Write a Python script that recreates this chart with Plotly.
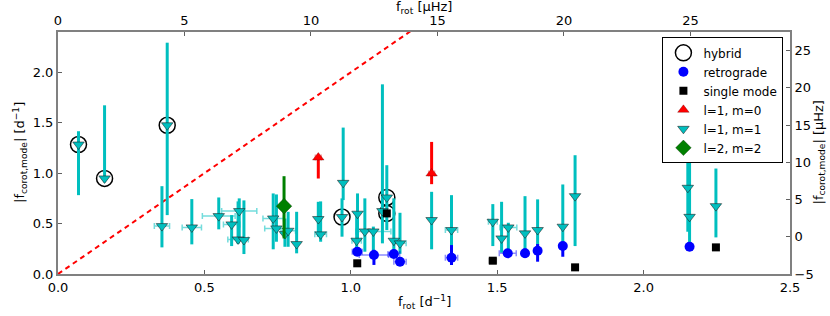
import plotly.graph_objects as go

# ---------------- data ----------------
# l=1, m=1 (cyan down-triangles)
m11_x    = [0.070, 0.159, 0.373, 0.355, 0.457, 0.549, 0.619, 0.593, 0.615, 0.635,
            0.735, 0.746, 0.775, 0.786, 0.815, 0.889, 0.897, 0.974, 0.970, 1.023,
            1.020, 1.048, 1.077, 1.108, 1.123, 1.147, 1.168, 1.276, 1.344, 1.485,
            1.515, 1.538, 1.595, 1.638, 1.724, 1.766, 2.151, 2.157, 2.247]
m11_y    = [1.284, 0.948, 1.475, 0.475, 0.462, 0.574, 0.624, 0.492, 0.343, 0.337,
            0.551, 0.452, 0.396, 0.429, 0.297, 0.545, 0.393, 0.904, 0.565, 0.598,
            0.330, 0.422, 0.422, 0.624, 0.759, 0.330, 0.304, 0.535, 0.436, 0.518,
            0.353, 0.462, 0.403, 0.436, 0.469, 0.772, 0.855, 0.567, 0.673]
m11_ylo  = [0.782, 0.910, 0.584, 0.264, 0.294, 0.443, 0.350, 0.277, 0.300, 0.198,
            0.245, 0.320, 0.270, 0.270, 0.205, 0.370, 0.320, 0.733, 0.370, 0.337,
            0.250, 0.221, 0.200, 0.304, 0.436, 0.200, 0.200, 0.245, 0.250, 0.277,
            0.211, 0.210, 0.250, 0.280, 0.280, 0.277, 0.419, 0.304, 0.363]
m11_yhi  = [1.416, 1.673, 2.294, 0.871, 0.743, 0.759, 0.750, 0.584, 0.720, 0.730,
            0.799, 0.789, 0.550, 0.617, 0.617, 0.716, 0.720, 1.452, 0.750, 0.799,
            0.600, 0.750, 0.470, 1.881, 1.079, 0.750, 0.607, 0.815, 0.782, 0.693,
            0.716, 0.508, 0.772, 0.740, 0.888, 1.178, 1.129, 1.178, 1.046]
m11_xerr = [0.0, 0.0, 0.0, 0.026, 0.033, 0.056, 0.060, 0.028, 0.035, 0.0,
            0.035, 0.040, 0.0, 0.025, 0.0, 0.0, 0.020, 0.0, 0.0, 0.0,
            0.016, 0.0, 0.060, 0.0, 0.0, 0.0, 0.021, 0.0, 0.021, 0.015,
            0.0, 0.029, 0.0, 0.0, 0.0, 0.0, 0.0, 0.0, 0.0]

# retrograde (blue circles)
retro_x    = [1.022, 1.079, 1.147, 1.168, 1.344, 1.536, 1.595, 1.638, 1.724, 2.157]
retro_y    = [0.221, 0.188, 0.198, 0.122, 0.162, 0.205, 0.205, 0.231, 0.277, 0.271]
retro_ylo  = [0.200, 0.090, 0.180, 0.105, 0.089, 0.170, 0.160, 0.122, 0.171, 0.255]
retro_yhi  = [0.240, 0.240, 0.215, 0.140, 0.287, 0.235, 0.254, 0.297, 0.300, 0.285]
retro_xerr = [0.017, 0.050, 0.020, 0.021, 0.021, 0.029, 0.0, 0.0, 0.0, 0.0]

# single mode (black squares)
single_x = [1.022, 1.123, 1.485, 1.766, 2.247]
single_y = [0.106, 0.601, 0.132, 0.066, 0.264]
single_xerr = [0.0, 0.0, 0.012, 0.0, 0.0]

# l=1, m=0 (red up-triangles)
m10_x   = [0.889, 1.276]
m10_y   = [1.155, 0.997]
m10_ylo = [0.947, 0.891]
m10_yhi = [1.170, 1.310]
m10_xerr = [0.010, 0.010]

# l=2, m=2 (green diamond)
m22_x   = [0.772]
m22_y   = [0.673]
m22_ylo = [0.353]
m22_yhi = [0.970]

# hybrid (open circles)
hyb_x = [0.070, 0.159, 0.373, 0.970, 1.123, 1.123]
hyb_y = [1.284, 0.948, 1.475, 0.565, 0.759, 0.601]

# axes
x_range = [0.0, 2.5]
y_range = [0.0, 2.4]
x_ticks = [0.0, 0.5, 1.0, 1.5, 2.0, 2.5]
y_ticks = [0.0, 0.5, 1.0, 1.5, 2.0]
uhz_per_cd = 11.574
top_ticks = [0, 5, 10, 15, 20, 25]
right_range = [-5, 27.5]
right_ticks = [-5, 0, 5, 10, 15, 20, 25]
diag_slope = 2.0
diag_x = [0.0, 2.5]

# ---------------- figure ----------------
CYAN = "#00bfbf"
CYAN_L = "rgba(0,191,191,0.55)"
BLUE = "#0000ff"
BLUE_L = "rgba(0,0,255,0.45)"
FONT = "DejaVu Sans"

def plus(v, hi):
    return [h - a for a, h in zip(v, hi)]

def minus(v, lo):
    return [a - l for a, l in zip(v, lo)]

fig = go.Figure()

# diagonal
fig.add_trace(go.Scatter(
    x=diag_x, y=[diag_slope * v for v in diag_x], mode="lines",
    line=dict(color="red", width=2, dash="5px,4px"),
    showlegend=False, hoverinfo="skip"))

fig.add_trace(go.Scatter(
    x=hyb_x, y=hyb_y, mode="markers", name="hybrid",
    marker=dict(symbol="circle-open", size=16, color="black", line=dict(width=1.5))))

fig.add_trace(go.Scatter(
    x=m11_x, y=m11_y, mode="markers", name="l=1, m=1",
    marker=dict(symbol="triangle-down", size=10, color=CYAN,
                line=dict(color="rgba(30,30,30,0.8)", width=0.7)),
    error_y=dict(type="data", symmetric=False, array=plus(m11_y, m11_yhi),
                 arrayminus=minus(m11_y, m11_ylo), color=CYAN, thickness=3, width=0),
    error_x=dict(type="data", array=m11_xerr, color=CYAN_L, thickness=1.5, width=3)))

fig.add_trace(go.Scatter(
    x=retro_x, y=retro_y, mode="markers", name="retrograde",
    marker=dict(symbol="circle", size=10, color=BLUE, line=dict(width=0)),
    error_y=dict(type="data", symmetric=False, array=plus(retro_y, retro_yhi),
                 arrayminus=minus(retro_y, retro_ylo), color=BLUE, thickness=3, width=0),
    error_x=dict(type="data", array=retro_xerr, color=BLUE_L, thickness=1.5, width=3)))

fig.add_trace(go.Scatter(
    x=single_x, y=single_y, mode="markers", name="single mode",
    marker=dict(symbol="square", size=8, color="black", line=dict(width=0)),
    error_x=dict(type="data", array=single_xerr, color="rgba(0,0,0,0.4)", thickness=1.5, width=3)))

fig.add_trace(go.Scatter(
    x=m10_x, y=m10_y, mode="markers", name="l=1, m=0",
    marker=dict(symbol="triangle-up", size=10, color="red",
                line=dict(color="rgba(80,0,0,0.6)", width=0.5)),
    error_y=dict(type="data", symmetric=False, array=plus(m10_y, m10_yhi),
                 arrayminus=minus(m10_y, m10_ylo), color="red", thickness=3, width=0),
    error_x=dict(type="data", array=m10_xerr, color="rgba(255,0,0,0.4)", thickness=1.5, width=3)))

fig.add_trace(go.Scatter(
    x=m22_x, y=m22_y, mode="markers", name="l=2, m=2",
    marker=dict(symbol="diamond", size=12, color="green",
                line=dict(color="rgba(0,40,0,0.7)", width=0.5)),
    error_y=dict(type="data", symmetric=False, array=plus(m22_y, m22_yhi),
                 arrayminus=minus(m22_y, m22_ylo), color="green", thickness=3, width=0)))

# dummy trace to activate secondary axes
fig.add_trace(go.Scatter(x=[None], y=[None], xaxis="x2", yaxis="y2",
                         showlegend=False, hoverinfo="skip"))

# legend order
order = {"hybrid": 1, "retrograde": 2, "single mode": 3, "l=1, m=0": 4, "l=1, m=1": 5, "l=2, m=2": 6}
for tr in fig.data:
    if tr.name in order:
        tr.legendrank = order[tr.name]

axis_common = dict(showgrid=False, zeroline=False, showline=True, linecolor="#808080",
                   linewidth=2, ticks="inside", ticklen=4, tickcolor="#606060",
                   automargin=False,
                   tickfont=dict(family=FONT, size=13, color="black"))

fig.update_layout(
    width=830, height=316,
    margin=dict(l=58, r=40, t=32, b=42),
    paper_bgcolor="white", plot_bgcolor="white",
    font=dict(family=FONT, size=13, color="black"),
    xaxis=dict(range=x_range, tickvals=x_ticks, ticktext=[f"{v:.1f}" for v in x_ticks],
               **axis_common),
    yaxis=dict(range=y_range, tickvals=y_ticks, ticktext=[f"{v:.1f}" for v in y_ticks],
               **axis_common),
    xaxis2=dict(range=[x_range[0] * uhz_per_cd, x_range[1] * uhz_per_cd], overlaying="x",
                side="top", anchor="y", tickvals=top_ticks, **axis_common),
    yaxis2=dict(range=right_range, overlaying="y", side="right", anchor="x",
                tickvals=right_ticks, **axis_common),
    legend=dict(x=0.991, y=0.978, xanchor="right", yanchor="top",
                bordercolor="black", borderwidth=1, bgcolor="white",
                font=dict(family=FONT, size=12), tracegroupgap=0,
                itemsizing="trace"),
    showlegend=True,
)

title_font = dict(family=FONT, size=13, color="black")
fig.add_annotation(text="f<sub>rot</sub> [d<sup>−1</sup>]", xref="paper", yref="paper",
                   x=0.5, y=0, xanchor="center", yanchor="top", yshift=-17,
                   showarrow=False, font=title_font)
fig.add_annotation(text="f<sub>rot</sub> [μHz]", xref="paper", yref="paper",
                   x=0.5, y=1, xanchor="center", yanchor="bottom", yshift=15,
                   borderpad=0, showarrow=False, font=title_font)
fig.add_annotation(text="|f<sub>corot,mode</sub>| [d<sup>−1</sup>]", xref="paper", yref="paper",
                   x=0, y=0.5, xanchor="right", yanchor="middle", xshift=-27, textangle=-90,
                   showarrow=False, font=title_font)
fig.add_annotation(text="|f<sub>corot,mode</sub>| [μHz]", xref="paper", yref="paper",
                   x=1, y=0.5, xanchor="left", yanchor="middle", xshift=18, textangle=-90,
                   showarrow=False, font=title_font)

fig.write_html("out.html", config={"displayModeBar": False},
               post_script="document.body.style.margin='0';document.body.style.overflow='hidden';")
